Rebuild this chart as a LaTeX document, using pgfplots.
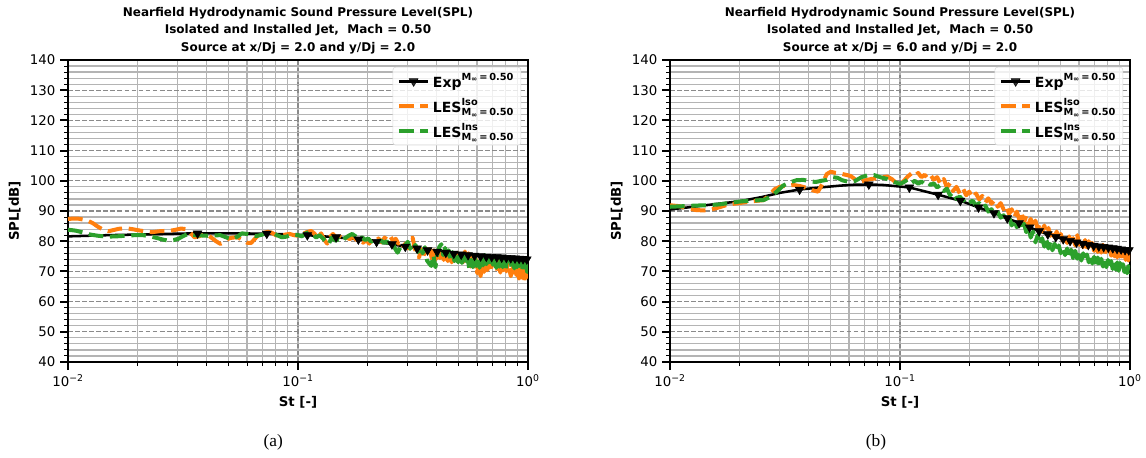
\documentclass[border=0pt]{standalone}
\usepackage{fontspec}
\setmainfont{DejaVu Sans}
\newfontfamily\seriffont{Liberation Serif}
\usepackage{amsmath}
\usepackage{pgfplots}
\usepackage{pgfplotstable}
\pgfplotsset{compat=1.18}
\definecolor{tabOrange}{HTML}{FF7F0E}
\definecolor{tabGreen}{HTML}{2CA02C}
\definecolor{majgrid}{HTML}{8A8A8A}
\definecolor{mingrid}{HTML}{B4B4B4}

% ---------- left panel (x/Dj = 2.0) ----------
\pgfplotstableread{
x y
0.010 81.6
0.015 82.0
0.020 82.2
0.030 82.5
0.0366 82.6
0.050 82.6
0.0732 82.5
0.1098 82.0
0.1464 81.3
0.183 80.6
0.2196 79.8
0.2562 79.0
0.2928 78.2
0.3294 77.6
0.366 77.0
0.4026 76.5
0.4392 76.2
0.4758 75.9
0.5124 75.6
0.549 75.4
0.5856 75.2
0.6222 75.0
0.6588 74.9
0.6954 74.8
0.732 74.7
0.7686 74.6
0.8052 74.5
0.8418 74.4
0.8784 74.3
0.915 74.2
0.9516 74.1
0.9882 74.0
1.000 74.0
}\expA
\pgfplotstableread{
x y
0.0366 82.6
0.0732 82.5
0.1098 82.0
0.1464 81.3
0.183 80.6
0.2196 79.8
0.2562 79.0
0.2928 78.2
0.3294 77.6
0.366 77.0
0.4026 76.5
0.4392 76.2
0.4758 75.9
0.5124 75.6
0.549 75.4
0.5856 75.2
0.6222 75.0
0.6588 74.9
0.6954 74.8
0.732 74.7
0.7686 74.6
0.8052 74.5
0.8418 74.4
0.8784 74.3
0.915 74.2
0.9516 74.1
0.9882 74.0
}\expAm
\pgfplotstableread{
x y
0.0100 87.4
0.0110 87.5
0.0120 87.0
0.0128 86.0
0.0135 84.8
0.0142 83.8
0.0150 83.3
0.0158 83.7
0.0166 84.1
0.0178 84.3
0.0190 84.0
0.0203 83.6
0.0218 83.2
0.0232 83.0
0.0250 83.3
0.0265 83.4
0.0280 83.5
0.0295 83.8
0.0310 84.2
0.0325 84.0
0.0340 82.8
0.0355 81.3
0.0370 81.6
0.0390 82.2
0.0405 82.1
0.0420 81.2
0.0440 80.0
0.0460 79.1
0.0480 79.8
0.0500 80.9
0.0520 81.2
0.0545 81.3
0.0570 80.6
0.0600 79.5
0.0625 79.4
0.0650 80.8
0.0680 82.5
0.0710 82.8
0.0740 83.1
0.0770 82.8
0.0800 82.0
0.0840 81.7
0.0880 82.2
0.0920 82.4
0.0960 82.0
0.1000 81.8
0.104 82.3
0.109 83.0
0.114 83.4
0.118 82.5
0.122 81.0
0.126 82.6
0.130 80.5
0.134 79.2
0.138 81.5
0.142 82.4
0.147 81.0
0.152 81.6
0.157 80.8
0.162 81.3
0.168 80.7
0.174 81.5
0.180 80.3
0.186 81.0
0.192 79.5
0.198 80.4
0.204 79.2
0.210 80.6
0.217 80.0
0.224 80.9
0.231 79.6
0.238 81.2
0.245 80.4
0.252 81.6
0.259 80.0
0.266 80.8
0.273 79.2
0.280 79.9
0.287 78.4
0.294 79.3
0.301 77.6
0.308 80.6
0.315 81.2
0.322 77.6
0.329 75.6
0.336 74.6
0.343 77.4
0.350 74.4
0.358 77.8
0.366 75.0
0.374 77.4
0.382 74.2
0.390 77.0
0.398 74.0
0.406 77.6
0.414 74.4
0.422 76.8
0.430 73.8
0.439 77.0
0.448 73.4
0.457 76.4
0.466 73.0
0.475 75.8
0.484 73.2
0.493 76.2
0.502 72.6
0.512 75.6
0.522 73.0
0.532 76.6
0.542 73.4
0.552 76.0
0.562 71.6
0.572 75.2
0.582 70.2
0.592 74.2
0.602 69.4
0.612 73.4
0.622 68.4
0.633 72.8
0.644 69.8
0.655 74.0
0.666 70.4
0.677 74.4
0.688 69.8
0.699 73.6
0.710 70.6
0.722 74.6
0.734 70.2
0.746 73.8
0.758 69.6
0.770 73.2
0.782 70.4
0.794 74.0
0.806 70.0
0.818 73.6
0.830 70.8
0.842 68.4
0.854 72.8
0.866 69.6
0.878 73.0
0.890 68.8
0.902 71.8
0.914 67.6
0.926 71.4
0.938 66.8
0.950 70.6
0.962 66.4
0.974 71.2
0.986 68.0
1.000 71.6
}\isoA
\pgfplotstableread{
x y
0.0100 83.8
0.0108 83.5
0.0116 82.9
0.0125 82.2
0.0135 81.8
0.0148 81.5
0.0162 81.6
0.0178 81.8
0.0195 82.0
0.0212 82.0
0.0228 81.6
0.0245 81.0
0.0260 80.5
0.0273 80.2
0.0288 80.4
0.0302 80.8
0.0315 81.6
0.0330 82.3
0.0345 82.2
0.0360 82.0
0.0380 81.9
0.0405 81.8
0.0430 81.9
0.0460 82.0
0.0490 81.2
0.0520 80.7
0.0545 81.5
0.0570 82.6
0.0600 82.4
0.0630 81.9
0.0660 81.7
0.0700 82.2
0.0740 82.7
0.0775 82.9
0.0810 82.0
0.0850 81.3
0.0890 81.5
0.0930 82.0
0.0970 82.2
0.1000 82.0
0.104 81.6
0.108 82.6
0.112 83.0
0.116 82.2
0.120 81.2
0.124 82.0
0.128 81.0
0.132 80.0
0.136 79.0
0.140 81.2
0.145 80.2
0.150 80.6
0.155 79.8
0.160 81.0
0.166 81.8
0.172 82.4
0.178 81.6
0.184 80.6
0.190 81.3
0.196 80.4
0.202 80.9
0.208 79.8
0.215 80.5
0.222 79.6
0.229 80.3
0.236 79.4
0.243 80.0
0.250 78.9
0.257 79.6
0.264 77.6
0.271 76.2
0.278 77.8
0.285 79.2
0.292 78.6
0.300 79.8
0.308 77.6
0.316 76.6
0.324 78.8
0.332 76.4
0.340 78.4
0.348 76.0
0.356 78.0
0.364 73.6
0.372 72.6
0.380 71.8
0.388 75.4
0.396 71.4
0.404 76.2
0.412 78.2
0.420 79.0
0.428 75.4
0.436 77.8
0.444 74.6
0.452 77.0
0.461 74.0
0.470 76.4
0.479 73.4
0.488 76.0
0.497 73.0
0.506 75.4
0.516 72.8
0.526 75.2
0.536 72.0
0.546 74.4
0.556 70.8
0.566 73.8
0.576 71.4
0.586 74.6
0.596 71.8
0.606 74.2
0.616 71.2
0.627 74.8
0.638 72.0
0.649 75.4
0.660 72.4
0.671 75.0
0.682 71.6
0.693 74.6
0.704 72.2
0.716 74.4
0.728 71.2
0.740 74.2
0.752 71.6
0.764 75.0
0.776 71.4
0.788 73.8
0.800 71.0
0.812 74.4
0.824 71.8
0.836 74.6
0.848 71.6
0.860 74.0
0.872 71.0
0.884 74.2
0.896 71.4
0.908 74.6
0.920 71.8
0.932 73.8
0.944 70.4
0.956 73.2
0.968 70.0
0.980 72.8
0.992 69.8
1.000 72.4
}\insA

% ---------- right panel (x/Dj = 6.0) ----------
\pgfplotstableread{
x y
0.010 90.5
0.012 91.2
0.015 92.1
0.020 93.2
0.025 94.6
0.030 96.0
0.0366 97.1
0.045 97.8
0.055 98.4
0.063 98.7
0.0732 98.8
0.085 98.6
0.1098 97.8
0.1464 95.4
0.183 93.4
0.2196 91.2
0.2562 89.3
0.2928 87.6
0.3294 86.0
0.366 84.6
0.4026 83.3
0.4392 82.3
0.4758 81.4
0.5124 80.7
0.549 80.1
0.5856 79.6
0.6222 79.2
0.6588 78.8
0.6954 78.5
0.732 78.3
0.7686 78.1
0.8052 77.9
0.8418 77.7
0.8784 77.5
0.915 77.3
0.9516 77.1
0.9882 77.0
1.000 77.0
}\expB
\pgfplotstableread{
x y
0.0366 97.1
0.0732 98.8
0.1098 97.8
0.1464 95.4
0.183 93.4
0.2196 91.2
0.2562 89.3
0.2928 87.6
0.3294 86.0
0.366 84.6
0.4026 83.3
0.4392 82.3
0.4758 81.4
0.5124 80.7
0.549 80.1
0.5856 79.6
0.6222 79.2
0.6588 78.8
0.6954 78.5
0.732 78.3
0.7686 78.1
0.8052 77.9
0.8418 77.7
0.8784 77.5
0.915 77.3
0.9516 77.1
0.9882 77.0
}\expBm
\pgfplotstableread{
x y
0.0100 91.9
0.0110 91.6
0.0120 90.8
0.0130 90.3
0.0140 90.2
0.0150 90.4
0.0165 91.3
0.0180 92.2
0.0200 92.6
0.0220 93.1
0.0240 93.4
0.0255 93.6
0.0270 95.2
0.0285 97.2
0.0300 98.0
0.0320 98.4
0.0345 98.6
0.0370 98.2
0.0395 97.6
0.0420 96.8
0.0440 96.4
0.0460 99.0
0.0480 102.2
0.0500 103.0
0.0525 102.6
0.0550 102.4
0.0580 102.0
0.0610 101.6
0.0640 100.4
0.0670 99.7
0.0710 100.2
0.0750 100.6
0.0790 100.8
0.0840 101.2
0.0880 101.4
0.0920 100.6
0.0960 99.4
0.1000 98.6
0.104 100.0
0.108 101.4
0.112 102.4
0.116 101.6
0.120 102.6
0.124 101.2
0.128 102.0
0.132 100.8
0.136 101.8
0.140 100.4
0.145 101.2
0.150 99.0
0.155 100.6
0.160 97.8
0.165 99.2
0.170 96.6
0.176 98.0
0.182 95.8
0.188 97.4
0.194 95.2
0.200 96.4
0.207 94.4
0.214 95.8
0.221 93.8
0.228 95.0
0.235 92.8
0.242 94.2
0.250 92.4
0.258 93.6
0.266 91.4
0.274 92.6
0.282 90.6
0.290 91.8
0.298 89.0
0.306 90.6
0.314 87.8
0.322 89.8
0.330 87.2
0.338 89.2
0.346 86.2
0.354 88.4
0.362 85.6
0.370 87.4
0.379 84.8
0.388 86.8
0.397 84.0
0.406 86.0
0.415 83.2
0.424 85.2
0.433 82.6
0.442 84.4
0.451 81.8
0.460 83.8
0.470 81.2
0.480 83.2
0.490 80.6
0.500 82.4
0.511 80.0
0.522 82.0
0.533 79.4
0.544 81.6
0.555 79.0
0.566 81.0
0.578 78.6
0.590 82.0
0.602 78.8
0.614 80.8
0.626 78.0
0.638 80.4
0.650 77.4
0.662 80.0
0.674 77.2
0.686 79.4
0.698 76.8
0.711 79.8
0.724 76.4
0.737 79.0
0.750 76.2
0.763 78.8
0.776 75.8
0.789 78.4
0.802 75.6
0.815 78.0
0.828 75.2
0.841 78.2
0.854 75.0
0.867 77.6
0.880 74.6
0.893 77.2
0.906 74.4
0.919 76.8
0.932 74.2
0.945 77.0
0.958 73.8
0.971 76.4
0.984 73.6
1.000 76.0
}\isoB
\pgfplotstableread{
x y
0.0100 91.4
0.0115 91.6
0.0130 91.8
0.0145 91.9
0.0165 92.2
0.0185 92.8
0.0205 93.2
0.0230 93.5
0.0255 93.6
0.0275 94.8
0.0295 96.8
0.0310 98.4
0.0330 99.4
0.0355 100.2
0.0380 100.3
0.0410 99.8
0.0430 99.6
0.0455 100.0
0.0480 100.3
0.0510 101.2
0.0535 101.0
0.0560 100.2
0.0600 99.6
0.0640 100.0
0.0680 101.2
0.0720 101.8
0.0770 101.9
0.0820 101.2
0.0870 100.7
0.0920 100.0
0.0960 99.4
0.1000 99.0
0.104 99.6
0.108 100.4
0.112 99.2
0.116 100.0
0.120 99.0
0.124 99.8
0.128 98.8
0.132 99.4
0.136 98.6
0.140 99.2
0.145 97.8
0.150 98.6
0.155 96.6
0.160 97.4
0.165 95.2
0.170 96.2
0.176 94.0
0.182 94.8
0.188 93.4
0.194 94.2
0.200 92.8
0.207 93.4
0.214 91.8
0.221 92.6
0.228 91.0
0.235 91.8
0.242 89.8
0.250 90.6
0.258 88.8
0.266 89.6
0.274 87.8
0.282 88.6
0.290 86.6
0.298 88.0
0.306 85.2
0.314 87.2
0.322 84.6
0.330 86.2
0.338 83.8
0.346 85.8
0.354 83.0
0.362 84.6
0.370 81.2
0.379 83.2
0.388 79.6
0.397 82.0
0.406 78.8
0.415 81.0
0.424 78.2
0.433 80.4
0.442 77.6
0.451 79.8
0.460 77.0
0.470 79.2
0.480 76.4
0.490 78.6
0.500 76.0
0.511 78.0
0.522 75.4
0.533 77.6
0.544 75.0
0.555 77.2
0.566 74.4
0.578 76.8
0.590 74.2
0.602 76.2
0.614 73.6
0.626 76.0
0.638 73.4
0.650 75.6
0.662 73.0
0.674 75.4
0.686 72.6
0.698 74.8
0.711 72.2
0.724 74.6
0.737 72.0
0.750 74.2
0.763 71.6
0.776 74.0
0.789 71.4
0.802 73.8
0.815 71.0
0.828 73.4
0.841 70.8
0.854 73.2
0.867 70.6
0.880 73.0
0.893 70.2
0.906 72.8
0.919 70.0
0.932 72.4
0.945 69.8
0.958 72.2
0.971 69.4
0.984 71.8
1.000 69.2
}\insB

\pgfplotsset{
  every axis/.append style={
    scale only axis, width=345pt, height=226.5pt,
    xmin=0.01, xmax=1,
    ymin=40, ymax=140,
    xtick={0.01,0.1,1},
    xticklabels={10\textsuperscript{−2},10\textsuperscript{−1},10\textsuperscript{0}},
    ytick={40,50,...,140},
    minor y tick num=4,
    grid=both,
    major grid style={majgrid, line width=0.9pt, dash pattern=on 3.5pt off 1.8pt},
    minor grid style={mingrid, line width=0.9pt},
    axis line style={black, line width=1.1pt},
    tick align=outside,
    xtick pos=bottom, ytick pos=left,
    major tick length=6pt, minor tick length=3pt,
    every major tick/.append style={black, line width=1.4pt},
    every minor tick/.append style={black, line width=0.7pt},
    tick label style={font=\fontsize{10}{11}\selectfont},
    xlabel={St [-]}, ylabel={SPL[dB]},
    label style={font=\bfseries\fontsize{10}{12}\selectfont},
    title style={font=\bfseries\fontsize{9}{13.2}\selectfont, align=center, yshift=-5pt},
    legend style={at={(0.985,0.977)}, anchor=north east, draw=black!15, rounded corners=2pt,
      fill=white, fill opacity=0.8, draw opacity=1, text opacity=1,
      font=\bfseries\fontsize{10.5}{12.5}\selectfont, row sep=2.5pt,
      inner xsep=3pt, inner ysep=2.5pt},
    legend cell align=left,
  },
  every axis x label/.style={at={(axis description cs:0.5,-0.1325)}, anchor=center},
  every axis y label/.style={at={(axis description cs:-0.116,0.5)}, rotate=90, anchor=center},
  lgline/.style={legend image code/.code={\draw[##1] (0pt,0pt) -- (22pt,0pt);}},
  expline/.style={black, line width=1.9pt, line join=round},
  expmarks/.style={black, only marks, mark=triangle*, mark size=3.8pt, mark options={rotate=180},
    legend image code/.code={\draw[black, line width=1.9pt] (0pt,0pt) -- (22pt,0pt);
      \draw[black, mark=triangle*, mark size=3.8pt, mark options={rotate=180}] plot coordinates {(11pt,0pt)};}},
  lesiso/.style={tabOrange, line width=3pt, dash pattern=on 11pt off 5pt, line join=round, lgline},
  lesins/.style={tabGreen, line width=3pt, dash pattern=on 11pt off 5pt, line join=round, lgline},
}

\begin{document}
\begin{tikzpicture}
\path[use as bounding box] (0,0) rectangle (859.5pt,342.75pt);

\begin{semilogxaxis}[at={(51pt,71.25pt)}, anchor=south west,
  /pgf/number format/assume math mode=true,
  title={Nearfield Hydrodynamic Sound Pressure Level(SPL)\\Isolated and Installed Jet,\ \ Mach = 0.50\\Source at x/Dj = 2.0 and y/Dj = 2.0}]
\addplot[expline, forget plot] table {\expA};
\addplot[expmarks] table {\expAm};
\addlegendentry{$\text{Exp}^{\text{M}_{\text{∞}}\text{\,=\,0.50}}$}
\addplot[lesiso] table {\isoA};
\addlegendentry{$\text{LES}^{\text{Iso}}_{\text{M}_{\text{∞}}\text{\,=\,0.50}}$}
\addplot[lesins] table {\insA};
\addlegendentry{$\text{LES}^{\text{Ins}}_{\text{M}_{\text{∞}}\text{\,=\,0.50}}$}
\end{semilogxaxis}

\begin{semilogxaxis}[at={(502.5pt,71.25pt)}, anchor=south west,
  /pgf/number format/assume math mode=true,
  title={Nearfield Hydrodynamic Sound Pressure Level(SPL)\\Isolated and Installed Jet,\ \ Mach = 0.50\\Source at x/Dj = 6.0 and y/Dj = 2.0}]
\addplot[expline, forget plot] table {\expB};
\addplot[expmarks] table {\expBm};
\addlegendentry{$\text{Exp}^{\text{M}_{\text{∞}}\text{\,=\,0.50}}$}
\addplot[lesiso] table {\isoB};
\addlegendentry{$\text{LES}^{\text{Iso}}_{\text{M}_{\text{∞}}\text{\,=\,0.50}}$}
\addplot[lesins] table {\insB};
\addlegendentry{$\text{LES}^{\text{Ins}}_{\text{M}_{\text{∞}}\text{\,=\,0.50}}$}
\end{semilogxaxis}

\node[font=\seriffont\fontsize{13}{15}\selectfont] at (205pt,11.25pt) {(a)};
\node[font=\seriffont\fontsize{13}{15}\selectfont] at (657pt,11.25pt) {(b)};
\end{tikzpicture}
\end{document}
